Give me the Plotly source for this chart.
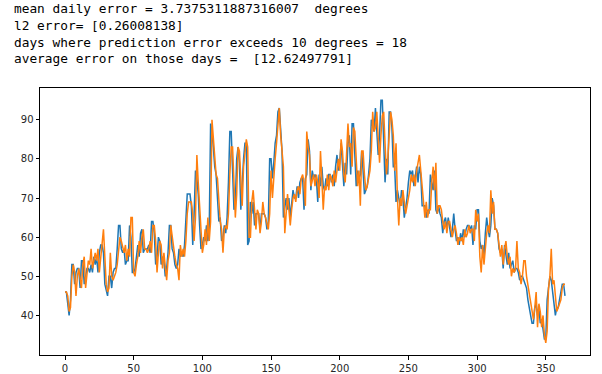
import plotly.graph_objects as go

days = list(range(365))

actual = [
    46, 46, 43, 40, 44, 53, 53, 48, 51, 52,
    52, 47, 54, 54, 48, 50, 52, 52, 51, 53,
    51, 55, 53, 55, 51, 56, 58, 58, 56, 48,
    46, 45, 50, 50, 47, 51, 52, 52, 57, 63,
    63, 57, 56, 57, 53, 54, 54, 63, 60, 51,
    51, 52, 55, 58, 55, 61, 62, 56, 57, 57,
    57, 58, 56, 64, 64, 61, 53, 55, 60, 59,
    53, 55, 54, 50, 52, 56, 63, 63, 57, 56,
    53, 52, 53, 57, 55, 56, 55, 58, 65, 71,
    71, 71, 68, 58, 66, 77, 75, 71, 63, 57,
    58, 60, 59, 63, 59, 62, 89, 87, 83, 78,
    76, 70, 64, 65, 59, 60, 63, 61, 65, 74,
    87, 87, 78, 67, 69, 80, 83, 79, 67, 75,
    80, 84, 84, 58, 59, 69, 66, 69, 63, 66,
    66, 66, 62, 66, 66, 66, 65, 62, 64, 80,
    80, 75, 79, 84, 86, 92, 93, 86, 82, 65,
    68, 70, 67, 70, 65, 69, 72, 70, 70, 73,
    70, 74, 75, 75, 67, 75, 76, 85, 82, 72,
    77, 75, 76, 75, 69, 76, 73, 78, 73, 72,
    75, 73, 76, 76, 74, 76, 73, 78, 81, 77,
    79, 84, 78, 73, 79, 76, 84, 86, 76, 89,
    89, 80, 73, 77, 75, 76, 82, 77, 71, 72,
    73, 76, 80, 90, 88, 87, 93, 87, 81, 86,
    95, 95, 86, 74, 80, 76, 92, 92, 88, 78,
    78, 69, 72, 70, 68, 72, 70, 65, 67, 70,
    74, 77, 76, 77, 73, 76, 78, 74, 78, 76,
    68, 68, 68, 65, 67, 66, 76, 74, 72, 77,
    67, 66, 68, 66, 65, 61, 64, 65, 62, 65,
    63, 60, 62, 66, 62, 59, 60, 58, 61, 59,
    62, 60, 62, 63, 63, 62, 63, 58, 63, 62,
    67, 67, 59, 57, 58, 55, 61, 65, 62, 60,
    63, 70, 68, 62, 62, 61, 57, 56, 57, 52,
    58, 55, 53, 56, 52, 53, 54, 51, 52, 52,
    51, 49, 50, 50, 49, 48, 47, 44, 42, 40,
    38, 38, 42, 43, 40, 42, 38, 39, 36, 34,
    34, 44, 47, 50, 49, 46, 44, 40, 42, 42,
    44, 46, 48, 48, 45,
]

predicted = [
    46, 46, 45, 41, 42, 50, 53, 51, 45, 50,
    52, 50, 47, 53, 55, 47, 50, 54, 53, 57,
    52, 54, 56, 54, 57, 51, 55, 57, 62, 55,
    48, 46, 47, 56, 50, 49, 50, 51, 53, 56,
    60, 59, 57, 56, 58, 54, 57, 55, 65, 65,
    51, 50, 53, 55, 59, 56, 60, 62, 57, 57,
    56, 57, 59, 56, 63, 63, 59, 51, 56, 59,
    58, 52, 56, 53, 49, 54, 56, 63, 60, 57,
    55, 53, 52, 49, 58, 55, 57, 55, 59, 66,
    69, 69, 69, 66, 59, 65, 81, 74, 68, 61,
    56, 58, 62, 58, 65, 59, 64, 90, 86, 80,
    76, 75, 68, 64, 62, 56, 62, 63, 62, 66,
    76, 83, 83, 75, 65, 71, 83, 82, 76, 68,
    78, 81, 85, 83, 60, 60, 69, 72, 67, 62,
    67, 66, 61, 64, 69, 66, 65, 63, 62, 66,
    77, 70, 76, 80, 84, 89, 93, 86, 82, 78,
    61, 66, 71, 67, 63, 67, 70, 71, 69, 72,
    73, 71, 75, 76, 74, 68, 87, 83, 81, 73,
    75, 76, 73, 76, 74, 70, 82, 72, 67, 73,
    72, 76, 72, 76, 75, 73, 77, 74, 78, 80,
    77, 85, 82, 76, 74, 80, 89, 83, 84, 78,
    88, 87, 79, 73, 77, 68, 82, 82, 76, 72,
    73, 75, 77, 82, 92, 87, 88, 92, 86, 79,
    86, 91, 92, 85, 76, 80, 88, 92, 90, 86,
    77, 84, 70, 63, 70, 68, 72, 69, 66, 68,
    70, 72, 76, 74, 76, 73, 77, 79, 81, 77,
    73, 70, 65, 69, 65, 67, 67, 74, 78, 72,
    79, 66, 68, 68, 67, 64, 62, 64, 61, 64,
    64, 62, 60, 62, 63, 61, 58, 60, 59, 60,
    58, 62, 60, 61, 63, 61, 62, 62, 59, 67,
    64, 66, 55, 51, 58, 53, 58, 61, 63, 61,
    72, 66, 69, 62, 62, 61, 58, 55, 58, 53,
    57, 59, 55, 53, 55, 50, 52, 51, 52, 59,
    52, 51, 48, 50, 54, 54, 50, 48, 45, 43,
    42, 39, 42, 46, 37, 43, 41, 37, 40, 35,
    33, 36, 47, 50, 57, 48, 49, 45, 41, 42,
    43, 44, 47, 48, 48,
]

x_ticks = [0, 50, 100, 150, 200, 250, 300, 350]
y_ticks = [40, 50, 60, 70, 80, 90]

text_lines = [
    "mean daily error = 3.7375311887316007  degrees",
    "l2 error= [0.26008138]",
    "days where prediction error exceeds 10 degrees = 18",
    "average error on those days =  [12.62497791]",
]

assert len(actual) == 365 and len(predicted) == 365

# figure geometry (pixels)
W, H = 602, 374
L, R, T, B = 40, 12, 88, 19
pw, ph = W - L - R, H - T - B

fig = go.Figure()
fig.add_trace(go.Scatter(x=days, y=actual, mode="lines",
                         line=dict(color="#1f77b4", width=1.5), name="actual"))
fig.add_trace(go.Scatter(x=days, y=predicted, mode="lines",
                         line=dict(color="#ff7f0e", width=1.5), name="predicted"))

# matplotlib-like 5% margins
xmin, xmax = min(days), max(days)
allv = actual + predicted
ymin, ymax = min(allv), max(allv)
xm = (xmax - xmin) * 0.05
ym = (ymax - ymin) * 0.05

axis_common = dict(showgrid=False, zeroline=False, showline=True, linecolor="black",
                   linewidth=1, mirror=True, ticks="outside", ticklen=3.5,
                   tickwidth=0.8, tickcolor="black", automargin=False,
                   tickfont=dict(family="DejaVu Sans", size=10, color="#262626"))

fig.update_xaxes(range=[xmin - xm, xmax + xm], tickvals=x_ticks, **axis_common)
fig.update_yaxes(range=[ymin - ym, ymax + ym], tickvals=y_ticks, **axis_common)

centers = [9, 25.5, 42, 58.5]
for line, cy in zip(text_lines, centers):
    fig.add_annotation(text=line, xref="paper", yref="paper",
                       x=(12 - L) / pw, y=(H - B - cy) / ph,
                       xanchor="left", yanchor="middle", showarrow=False,
                       font=dict(family="DejaVu Sans Mono", size=12.8, color="black"))

fig.update_layout(width=W, height=H, margin=dict(l=L, r=R, t=T, b=B, pad=0),
                  paper_bgcolor="white", plot_bgcolor="white", showlegend=False)

fig.write_html("out.html", config={"displayModeBar": False},
               post_script="document.body.style.margin='0';document.body.style.overflow='hidden';")
